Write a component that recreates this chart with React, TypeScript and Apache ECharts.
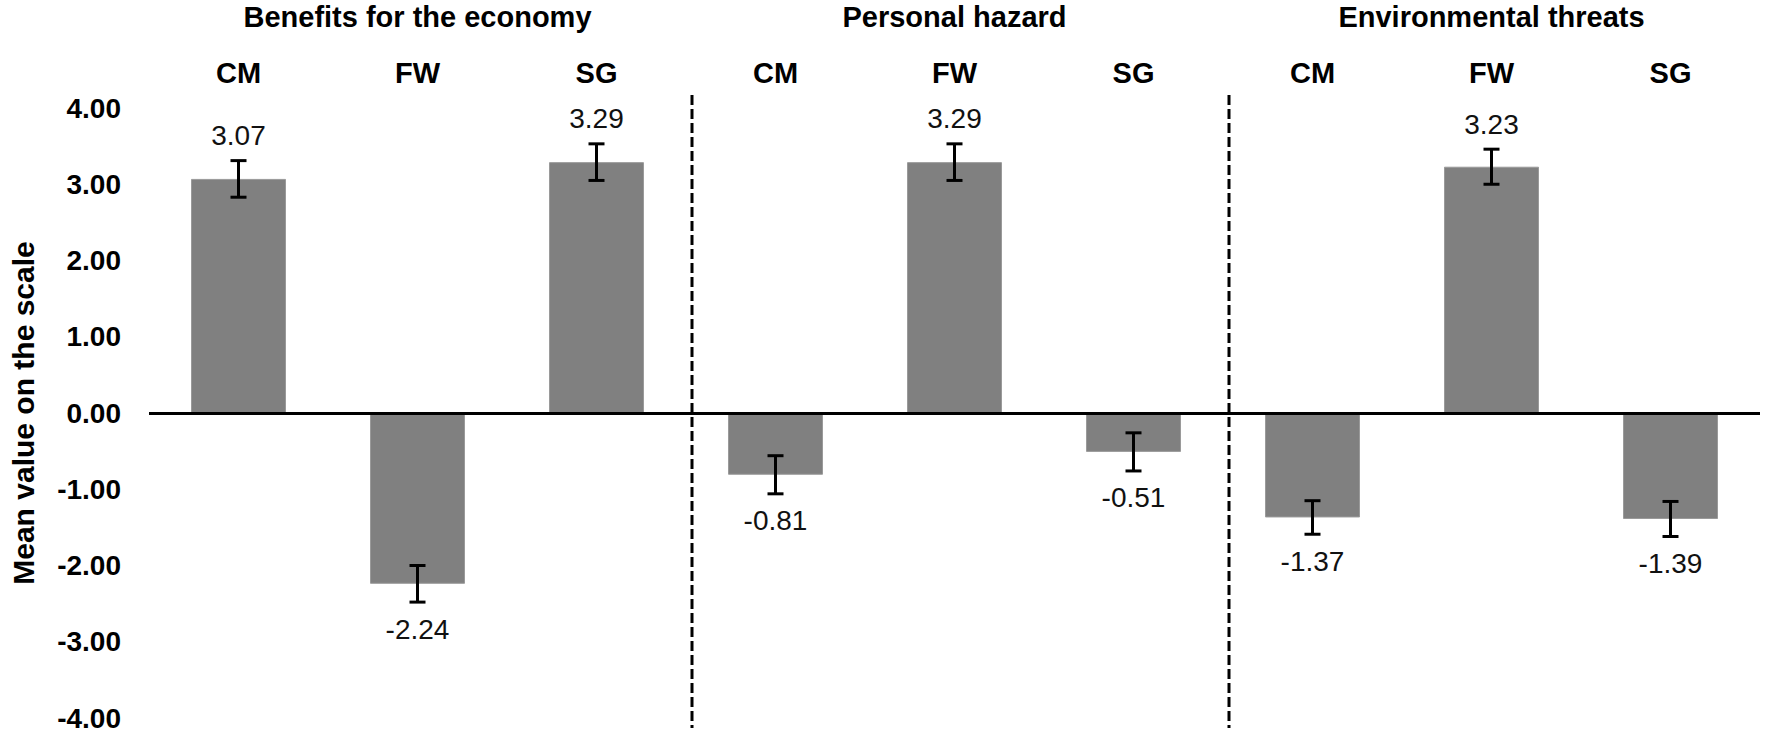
import React, { useEffect, useRef } from "react";
import * as echarts from "echarts";

const categories = ["CM", "FW", "SG", "CM", "FW", "SG", "CM", "FW", "SG"];
const groupTitles = ["", "Benefits for the economy", "", "", "Personal hazard", "", "", "Environmental threats", ""];
const means = [3.07, -2.24, 3.29, -0.81, 3.29, -0.51, -1.37, 3.23, -1.39];
const errors = [0.24, 0.24, 0.24, 0.25, 0.24, 0.25, 0.22, 0.23, 0.23];
const yMin = -4;
const yMax = 4;
const yInterval = 1;
const dividerAfter = [2, 5];

const FONT = "'Liberation Sans', Arial, sans-serif";

export default function App() {
  const ref = useRef<HTMLDivElement>(null);
  useEffect(() => {
    if (!ref.current) return;
    const chart = echarts.init(ref.current, null, { renderer: "svg" });
    const errData = means.map((m, i) => [i, m, errors[i]]);
    chart.setOption({
      animation: false,
      textStyle: { fontFamily: FONT },
      grid: { left: 145, right: 12, top: 108, bottom: 17, containLabel: false },
      xAxis: [
        {
          type: "category",
          data: categories,
          position: "top",
          axisLine: { show: false },
          axisTick: { show: false },
          axisLabel: { interval: 0, margin: 21, fontSize: 29, fontWeight: "bold", color: "#000", fontFamily: FONT },
          splitLine: { show: false },
        },
        {
          type: "category",
          data: groupTitles,
          position: "top",
          offset: 55,
          axisLine: { show: false },
          axisTick: { show: false },
          axisLabel: { interval: 0, margin: 22, fontSize: 29, fontWeight: "bold", color: "#000", fontFamily: FONT },
          splitLine: { show: false },
        },
      ],
      yAxis: {
        type: "value",
        min: yMin,
        max: yMax,
        interval: yInterval,
        axisLine: { show: false },
        axisTick: { show: false },
        splitLine: { show: false },
        axisLabel: {
          margin: 28,
          fontSize: 28,
          fontWeight: "bold",
          color: "#000",
          fontFamily: FONT,
          formatter: (v: number) => v.toFixed(2),
        },
        name: "Mean value on the scale",
        nameLocation: "middle",
        nameRotate: 90,
        nameGap: 111,
        nameTextStyle: { fontSize: 30, fontWeight: "bold", color: "#000", fontFamily: FONT },
      },
      series: [
        {
          type: "bar",
          data: means,
          barWidth: 95,
          itemStyle: { color: "#808080", borderColor: "#9a9a9a", borderWidth: 1 },
          markLine: {
            silent: true,
            symbol: "none",
            label: { show: false },
            lineStyle: { color: "#000", width: 3, type: "solid" },
            data: [{ yAxis: 0 }],
            z: 10,
          },
        },
        {
          type: "custom",
          data: errData,
          z: 12,
          renderItem: (params: any, api: any) => {
            const idx = api.value(0);
            const m = api.value(1);
            const e = api.value(2);
            const top = api.coord([idx, m + e]);
            const bot = api.coord([idx, m - e]);
            const x = top[0];
            const cap = 8;
            const lineStyle = { stroke: "#000", lineWidth: 3 };
            const labelY = m >= 0 ? top[1] - 25 : bot[1] + 27;
            return {
              type: "group",
              children: [
                { type: "line", shape: { x1: x, y1: top[1], x2: x, y2: bot[1] }, style: lineStyle },
                { type: "line", shape: { x1: x - cap, y1: top[1], x2: x + cap, y2: top[1] }, style: lineStyle },
                { type: "line", shape: { x1: x - cap, y1: bot[1], x2: x + cap, y2: bot[1] }, style: lineStyle },
                {
                  type: "text",
                  x: x,
                  y: labelY,
                  style: {
                    text: m.toFixed(2),
                    fontSize: 28,
                    fontFamily: FONT,
                    fill: "#111",
                    align: "center",
                    verticalAlign: "middle",
                  },
                },
              ],
            };
          },
        },
      ],
    });

    const graphics = dividerAfter.map((i) => {
      const a = chart.convertToPixel({ xAxisIndex: 0 }, i) as number;
      const b = chart.convertToPixel({ xAxisIndex: 0 }, i + 1) as number;
      const x = (a + b) / 2 + 6;
      return {
        type: "line",
        shape: { x1: x, y1: 95, x2: x, y2: 728 },
        style: { stroke: "#000", lineWidth: 3, lineDash: [10, 4] },
        z: 20,
      };
    });
    chart.setOption({ graphic: graphics });

    return () => chart.dispose();
  }, []);
  return (
    <div
      ref={ref}
      style={{ position: "absolute", left: 0, top: 0, width: 1772, height: 735, background: "#fff" }}
    />
  );
}
